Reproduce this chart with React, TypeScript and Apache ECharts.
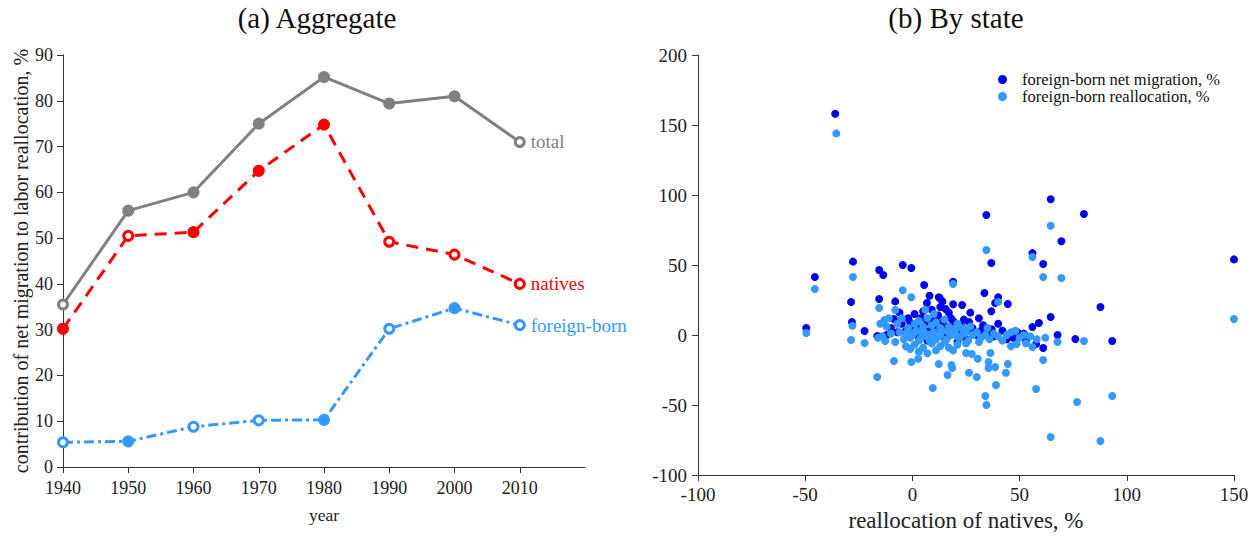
import React, { useEffect, useRef } from "react";
import * as echarts from "echarts";

const years = [1940, 1950, 1960, 1970, 1980, 1990, 2000, 2010];
const totalVals = [35.5, 56, 60, 75, 85.2, 79.4, 81, 71];
const nativesVals = [30.2, 50.5, 51.3, 64.7, 74.8, 49.2, 46.4, 40];
const foreignVals = [5.4, 5.6, 8.8, 10.2, 10.3, 30.2, 34.7, 31];
// true = filled marker, false = hollow marker
const totalFilled = [false, true, true, true, true, true, true, false];
const nativesFilled = [true, false, true, true, true, false, false, false];
const foreignFilled = [false, true, false, false, true, false, true, false];

const leftYTicks = [0, 10, 20, 30, 40, 50, 60, 70, 80, 90];
const leftXTicks = [1940, 1950, 1960, 1970, 1980, 1990, 2000, 2010];

const netMigration: number[][] = [
  [-36, 158], [150, 54], [64.5, 97], [80, 86.4], [34.5, 85.7], [69.5, 67], [56, 58.5], [36.8, 51.4],
  [61, 50.7], [19, 38], [-45.5, 41.4], [-27.7, 52.4], [-28.6, 23.6], [-28.2, 9.3], [-49.5, 5],
  [-22.3, 2.9], [-15.5, 46.4], [-13.6, 42.9], [-4.5, 50], [-0.5, 47.9], [5.5, 35.7], [-15.5, 25.7],
  [-8, 24], [33.6, 30], [40, 27], [38.6, 22.9], [44.5, 22.1], [36.8, 17], [64.5, 12.9], [59, 8.6],
  [56, 5.7], [67.7, 0], [61, -9.3], [57.7, -6.4], [76, -2.9], [49, 2], [26.4, 9.3], [23.2, 21.4],
  [12.7, 26.4], [6.8, 22.9], [87.7, 20], [93.2, -4.3], [-16.4, -0.7], [-8.6, 11.4], [12.3, 27],
  [15.5, 18.6], [0, 5], [2, 8], [4, 12], [6, 3], [8, 10], [10, 6], [12, 14], [14, 9], [16, 4],
  [18, 12], [20, 7], [22, 2], [24, 11], [5, 17], [9, 18], [13, 20], [17, 16], [11, 2], [3, -2],
  [-3, 3], [-5, 8], [-7, 2], [-10, 5], [-12, 0], [28, 5], [30, 0], [32, 3], [35, 1], [38, -1],
  [42, 3], [45, 0], [47, -2], [52, 1], [25, -3], [15, -2], [7, -4], [1, 15], [-2, 12], [19, 22],
  [27, 16], [31, 12], [33, 7], [21, -5], [40, 8], [8, 28], [14, 24], [-6, 16], [44, -3], [53, -4],
  [37, 4], [3, 6], [7, 9], [11, 12], [15, 7], [19, 10], [23, 6], [27, 3], [-1, 9], [5, 2], [9, 4],
];

const fbReallocation: number[][] = [
  [-35.5, 144], [150, 11.4], [64.5, 78], [34.5, 60.7], [56, 55.7], [61, 41.4], [69.5, 40.7],
  [19, 36.4], [-45.5, 32.9], [-27.7, 41.4], [-28, 6.6], [-28.6, -3.6], [-49.5, 1.4], [-22.3, -5.7],
  [-4.5, 32], [-0.5, 27], [-15.5, 19.3], [-8, 17.9], [40, 23.6], [67.7, -5], [61, -17.9], [56, -8.6],
  [48.6, -6.4], [43.6, -27], [44.5, -20.7], [80, -4.3], [76.8, -47.9], [93.2, -43.6], [64.5, -72.9],
  [87.7, -75.7], [-8.6, -18.6], [-0.5, -19.3], [2.7, -17], [12.3, -20.7], [18.2, -21.4],
  [18.6, -23.6], [16.4, -28.6], [26.4, -27], [30.5, -17], [25, -12.9], [27.7, -13.6], [35.5, -19.3],
  [35.5, -23.6], [38.6, -22.9], [36.4, -12.9], [-16.4, -30], [30, -30], [9.5, -37.9], [34, -43.6],
  [34.5, -50], [39, -35.7], [57.7, -38.6], [-12.7, -4.3], [-13, 10.7], [-15, 8], [-16, -2],
  [0, 0], [2, 3], [4, -2], [6, 1], [8, -4], [10, 2], [12, -1], [14, 3], [16, -3], [18, 0], [20, 2],
  [22, -2], [24, 1], [26, -4], [28, 0], [30, 2], [32, -2], [34, 0], [36, -3], [38, 1], [40, -1],
  [42, -4], [44, 0], [46, 2], [50, -2], [52, 0], [55, -1], [58, -3], [-2, 5], [-4, -3], [-6, 2],
  [-8, -5], [-10, 1], [-12, 6], [-14, -1], [1, 8], [3, 10], [5, 6], [7, 12], [9, 7], [11, 9],
  [13, 5], [15, 11], [17, 6], [19, 4], [21, 8], [-3, -8], [1, -7], [5, -9], [9, -6], [13, -8],
  [17, -9], [21, -7], [25, -6], [-7, 8], [-11, 12], [3, -12], [7, -13], [11, -11], [15, -5],
  [6, 18], [10, 15], [-1, -10], [19, -11], [23, 5], [27, 6], [31, -5], [35, 5], [-5, 12],
  [46, -8], [53, -6], [62, -2], [48, 3], [1, 2], [3, -4], [5, 3], [7, -1], [9, 1], [11, -3],
  [13, 0], [-1, -2], [-3, 1], [17, 2], [21, -1], [25, 3],
];

const rightXTicks = [-100, -50, 0, 50, 100, 150];
const rightYTicks = [-100, -50, 0, 50, 100, 150, 200];

const GRAY = "#808080";
const RED = "#ff0000";
const LBLUE = "#3399ff";
const DBLUE = "#0000ee";
const FONT = "'Liberation Serif', 'Times New Roman', serif";
const AXIS = "#333333";

function lineData(vals: number[], filled: boolean[], color: string, label: string) {
  return vals.map((v, i) => {
    const d: any = {
      value: [years[i], v],
      itemStyle: {
        color: filled[i] ? color : "#ffffff",
        borderColor: color,
        borderWidth: 3,
      },
    };
    if (i === vals.length - 1) {
      d.label = {
        show: true,
        position: "right",
        distance: 5,
        formatter: label,
        color,
        fontSize: 19,
        fontFamily: FONT,
      };
    }
    return d;
  });
}

export default function App() {
  const ref = useRef<HTMLDivElement>(null);
  useEffect(() => {
    if (!ref.current) return;
    const chart = echarts.init(ref.current, undefined, { renderer: "svg" });
    const axisLine = { show: true, onZero: false, lineStyle: { color: AXIS, width: 1 } };
    const axisTick = { show: true, inside: false, length: 6, lineStyle: { color: AXIS } };
    const leftLabel = { color: "#222", fontSize: 18, fontFamily: FONT };
    const rightLabel = { color: "#222", fontSize: 19, fontFamily: FONT };
    chart.setOption({
      animation: false,
      textStyle: { fontFamily: FONT },
      title: [
        {
          text: "(a) Aggregate",
          left: 317,
          top: 3,
          padding: 0,
          textAlign: "center",
          textStyle: { fontSize: 29, fontWeight: "normal", color: "#111", fontFamily: FONT },
        },
        {
          text: "(b) By state",
          left: 956,
          top: 3,
          padding: 0,
          textAlign: "center",
          textStyle: { fontSize: 29, fontWeight: "normal", color: "#111", fontFamily: FONT },
        },
      ],
      legend: {
        data: ["foreign-born net migration, %", "foreign-born reallocation, %"],
        orient: "vertical",
        left: 993,
        top: 66,
        itemWidth: 9,
        itemHeight: 9,
        itemGap: 0,
        icon: "circle",
        textStyle: { fontSize: 16.5, lineHeight: 17, fontFamily: FONT, color: "#111", padding: [0, 0, 0, 10] },
      },
      grid: [
        { left: 63, right: 670, top: 55, bottom: 69, outerBoundsMode: "none" },
        { left: 698, right: 21, top: 55, bottom: 61, outerBoundsMode: "none" },
      ],
      xAxis: [
        {
          gridIndex: 0,
          type: "value",
          min: 1940,
          max: 2020,
          interval: 10,
          name: "year",
          nameLocation: "middle",
          nameGap: 39,
          nameTextStyle: { fontSize: 17.5, fontFamily: FONT, color: "#222" },
          splitLine: { show: false },
          axisLine,
          axisTick: { ...axisTick, customValues: leftXTicks },
          axisLabel: { ...leftLabel, margin: 12, customValues: leftXTicks, formatter: (v: number) => String(v) },
        },
        {
          gridIndex: 1,
          type: "value",
          min: -100,
          max: 150,
          interval: 50,
          name: "reallocation of natives, %",
          nameLocation: "middle",
          nameGap: 33,
          nameTextStyle: { fontSize: 23, fontFamily: FONT, color: "#222" },
          splitLine: { show: false },
          axisLine,
          axisTick: { ...axisTick, customValues: rightXTicks },
          axisLabel: { ...rightLabel, margin: 10, customValues: rightXTicks },
        },
      ],
      yAxis: [
        {
          gridIndex: 0,
          type: "value",
          min: 0,
          max: 90,
          interval: 10,
          name: "contribution of net migration to labor reallocation, %",
          nameLocation: "middle",
          nameGap: 32,
          nameTextStyle: { fontSize: 20, fontFamily: FONT, color: "#222" },
          splitLine: { show: false },
          axisLine,
          axisTick: { ...axisTick, customValues: leftYTicks },
          axisLabel: { ...leftLabel, margin: 10, customValues: leftYTicks },
        },
        {
          gridIndex: 1,
          type: "value",
          min: -100,
          max: 200,
          interval: 50,
          splitLine: { show: false },
          axisLine,
          axisTick: { ...axisTick, customValues: rightYTicks },
          axisLabel: { ...rightLabel, margin: 11, customValues: rightYTicks },
        },
      ],
      series: [
        {
          name: "total",
          type: "line",
          xAxisIndex: 0,
          yAxisIndex: 0,
          data: lineData(totalVals, totalFilled, GRAY, "total"),
          symbol: "circle",
          symbolSize: 9,
          lineStyle: { color: GRAY, width: 3 },
          z: 3,
        },
        {
          name: "natives",
          type: "line",
          xAxisIndex: 0,
          yAxisIndex: 0,
          data: lineData(nativesVals, nativesFilled, RED, "natives"),
          symbol: "circle",
          symbolSize: 9,
          lineStyle: { color: RED, width: 3, type: [12, 8] },
          z: 3,
        },
        {
          name: "foreign-born",
          type: "line",
          xAxisIndex: 0,
          yAxisIndex: 0,
          data: lineData(foreignVals, foreignFilled, LBLUE, "foreign-born"),
          symbol: "circle",
          symbolSize: 9,
          lineStyle: { color: LBLUE, width: 3, type: [10, 4, 3, 4] },
          z: 3,
        },
        {
          name: "foreign-born net migration, %",
          type: "scatter",
          xAxisIndex: 1,
          yAxisIndex: 1,
          data: netMigration,
          symbolSize: 8,
          itemStyle: { color: DBLUE, opacity: 1 },
        },
        {
          name: "foreign-born reallocation, %",
          type: "scatter",
          xAxisIndex: 1,
          yAxisIndex: 1,
          data: fbReallocation,
          symbolSize: 8,
          itemStyle: { color: LBLUE, opacity: 1 },
        },
      ],
    });
    return () => chart.dispose();
  }, []);
  return (
    <div
      ref={ref}
      style={{ position: "fixed", left: 0, top: 0, width: 1255, height: 536, background: "#fff" }}
    />
  );
}
